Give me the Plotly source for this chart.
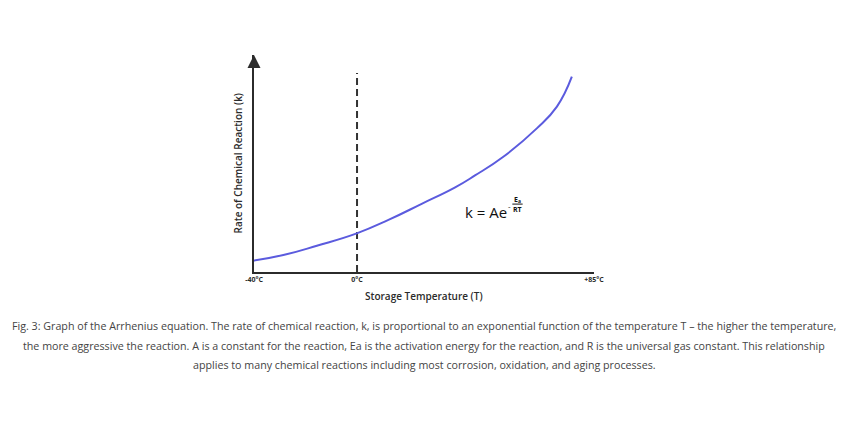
import plotly.graph_objects as go

# Data (schematic values)
temps = [-40.3, -28.6, -15.6, -0.1, 12.2, 25.1, 38.1, 45.8, 56.8, 69.8, 77.6, 83.4]
rate = [5.2, 7.8, 12.1, 17.8, 24.0, 31.4, 39.0, 44.5, 53.1, 66.2, 76.2, 90.0]
ref_temp = [0, 0]
ref_rate = [0, 91.7]
tick_vals = [-40, 0, 92]
tick_text = ["-40°C", "0°C", "+85°C"]
x_range = [-40, 92]
y_range = [0, 100]

caption_lines = [
    "Fig. 3: Graph of the Arrhenius equation. The rate of chemical reaction, k, is proportional to an exponential function of the temperature T \u2013 the higher the temperature,",
    "the more aggressive the reaction. A is a constant for the reaction, Ea is the activation energy for the reaction, and R is the universal gas constant. This relationship",
    "applies to many chemical reactions including most corrosion, oxidation, and aging processes.",
]

FONT = "Open Sans"
DARK = "#2b2b2b"

fig = go.Figure()
fig.add_trace(go.Scatter(x=ref_temp, y=ref_rate, mode="lines",
                         line=dict(color="#333333", width=2, dash="7px,4px"),
                         hoverinfo="skip", showlegend=False))
fig.add_trace(go.Scatter(x=temps, y=rate, mode="lines",
                         line=dict(color="#5b5bde", width=2, shape="spline", smoothing=1.3),
                         showlegend=False))

fig.update_xaxes(range=x_range, tickvals=tick_vals, ticktext=tick_text,
                 showgrid=False, zeroline=False, showline=True, linewidth=2,
                 linecolor=DARK, ticks="", ticklen=0,
                 tickfont=dict(family=FONT, size=7, color=DARK, weight=700))
fig.update_yaxes(range=y_range, showgrid=False, zeroline=False, showline=True,
                 linewidth=2, linecolor=DARK, showticklabels=False, ticks="")

annotations = [
    # arrow head on y axis
    dict(x=x_range[0], y=y_range[1], ax=x_range[0], ay=y_range[1] - 6,
         xref="x", yref="y", axref="x", ayref="y", showarrow=True,
         arrowhead=2, arrowsize=1.3, arrowwidth=2, arrowcolor=DARK,
         standoff=0, text=""),
    # axis titles
    dict(x=0.5, y=0, xref="paper", yref="paper", yanchor="top", yshift=-15,
         showarrow=False, text="Storage Temperature (T)",
         font=dict(family=FONT, size=10, color=DARK, weight=600)),
    dict(x=0, y=0.5, xref="paper", yref="paper", xanchor="right", xshift=-8,
         textangle=-90, showarrow=False, text="Rate of Chemical Reaction (k)",
         font=dict(family=FONT, size=10, color=DARK, weight=600)),
    # equation
    dict(x=50.1, y=27.8, xref="x", yref="y", xanchor="center", yanchor="middle",
         showarrow=False, text="k = Ae",
         font=dict(family=FONT, size=15, color="#111111")),
    dict(x=59.0, y=30.6, xref="x", yref="y", xanchor="center", yanchor="middle",
         showarrow=False, text="-", font=dict(family=FONT, size=8, color="#111111")),
    dict(x=62.2, y=33.4, xref="x", yref="y", xanchor="center", yanchor="middle",
         showarrow=False, text="E<sub>a</sub>",
         font=dict(family=FONT, size=7, color="#111111", weight=700)),
    dict(x=62.3, y=29.0, xref="x", yref="y", xanchor="center", yanchor="middle",
         showarrow=False, text="RT",
         font=dict(family=FONT, size=7, color="#111111", weight=700)),
]
caption_y = [-54, -74, -93]
for line, yy in zip(caption_lines, caption_y):
    annotations.append(dict(x=0.5, y=0, xref="paper", yref="paper",
                            yshift=yy, yanchor="middle", showarrow=False,
                            text=line,
                            font=dict(family=FONT, size=10.7, color="#444444")))

shapes = [dict(type="line", xref="x", yref="y", x0=60.3, x1=64.3, y0=31.3, y1=31.3,
               line=dict(color="#111111", width=1))]

fig.update_layout(width=842, height=417, margin=dict(l=246, r=256, t=47, b=153),
                  paper_bgcolor="white", plot_bgcolor="white",
                  annotations=annotations, shapes=shapes)
fig.write_html("out.html")
